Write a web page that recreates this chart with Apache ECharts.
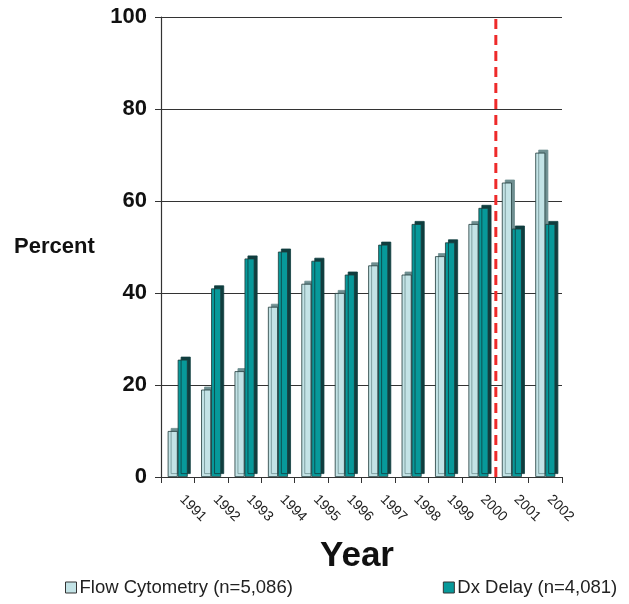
<!DOCTYPE html>
<html>
<head>
<meta charset="utf-8">
<script src="https://cdn.jsdelivr.net/npm/echarts@6/dist/echarts.min.js"></script>
<style>
  html, body { margin: 0; padding: 0; background: #ffffff; }
  #chart { width: 629px; height: 604px; }
</style>
</head>
<body>
<div id="chart"></div>
<script>
// Yearly percentages for the two cohorts
const years = ['1991', '1992', '1993', '1994', '1995', '1996', '1997', '1998', '1999', '2000', '2001', '2002'];
const flowCytometry = [10, 19, 23, 37, 42, 40, 46, 44, 48, 55, 64, 70.5];
const dxDelay = [25.5, 41, 47.5, 49, 47, 44, 50.5, 55, 51, 58.5, 54, 55];
const yTicks = [0, 20, 40, 60, 80, 100];
// Cut-off marker between 2000 and 2001 (in category units along the x axis)
const cutoffPosition = [10.02, 10.02];
const cutoffSpan = [0, 100];

const seriesNames = ['Flow Cytometry (n=5,086)', 'Dx Delay (n=4,081)'];

const chart = echarts.init(document.getElementById('chart'), null, { renderer: 'canvas' });

function barStyle(face, side) {
  return {
    color: face,
    borderColor: '#1f3a3a',
    borderWidth: 0.8,
    shadowColor: side,
    shadowBlur: 0,
    shadowOffsetX: 3,
    shadowOffsetY: -3
  };
}

chart.setOption({
  animation: false,
  backgroundColor: '#ffffff',
  textStyle: { fontFamily: 'Liberation Sans, Arial, sans-serif' },
  grid: { left: 161, right: 67, top: 17, bottom: 127, containLabel: false },
  legend: {
    bottom: 2,
    left: 60,
    itemGap: 150,
    itemWidth: 11,
    itemHeight: 11,
    icon: 'rect',
    data: seriesNames,
    textStyle: { fontSize: 18.5, color: '#222', fontFamily: 'Liberation Sans, Arial, sans-serif', padding: [0, 0, 0, -2] },
    itemStyle: { shadowBlur: 0, shadowOffsetX: 0, shadowOffsetY: 0, shadowColor: 'transparent', borderColor: '#333', borderWidth: 1 }
  },
  xAxis: [
    {
      type: 'category',
      data: years,
      boundaryGap: true,
      axisLine: { show: true, lineStyle: { color: '#333', width: 1.2 } },
      axisTick: { show: true, interval: 0, length: 6, lineStyle: { color: '#333' } },
      axisLabel: {
        interval: 0,
        rotate: -45,
        margin: 16,
        fontSize: 14,
        color: '#222',
        align: 'left',
        padding: [0, 0, 0, 6]
      },
      splitLine: { show: false }
    },
    {
      type: 'value',
      min: 0,
      max: 12,
      show: false
    }
  ],
  yAxis: {
    type: 'value',
    min: 0,
    max: 100,
    interval: 20,
    axisLine: { show: true, lineStyle: { color: '#333', width: 1.2 } },
    axisTick: { show: true, length: 6, lineStyle: { color: '#333' } },
    axisLabel: {
      fontSize: 22,
      fontWeight: 'bold',
      color: '#111',
      margin: 14,
      formatter: function (v) { return yTicks.indexOf(v) >= 0 ? String(v) : ''; }
    },
    splitLine: { show: true, lineStyle: { color: '#333', width: 1 } }
  },
  graphic: [
    {
      type: 'text',
      left: 14,
      top: 236,
      style: { text: 'Percent', fontSize: 22, fontWeight: 'bold', fill: '#111', fontFamily: 'Liberation Sans, Arial, sans-serif' }
    },
    {
      type: 'text',
      left: 320,
      top: 539,
      style: { text: 'Year', fontSize: 35, fontWeight: 'bold', fill: '#111', fontFamily: 'Liberation Sans, Arial, sans-serif' }
    }
  ],
  series: [
    {
      name: seriesNames[0],
      type: 'bar',
      xAxisIndex: 0,
      data: flowCytometry,
      barWidth: 10,
      barGap: '0%',
      itemStyle: barStyle('#c3e3e6', '#6f8f91')
    },
    {
      name: seriesNames[1],
      type: 'bar',
      xAxisIndex: 0,
      data: dxDelay,
      barWidth: 10,
      barGap: '0%',
      itemStyle: barStyle('#07999a', '#0f3e3f')
    },
    {
      name: 'cutoff',
      type: 'line',
      xAxisIndex: 1,
      data: cutoffPosition.map(function (x, i) { return [x, cutoffSpan[i]]; }),
      symbol: 'none',
      silent: true,
      z: 5,
      lineStyle: { color: '#ee2a2a', width: 3, type: [10, 6] }
    }
  ]
});
</script>
</body>
</html>
